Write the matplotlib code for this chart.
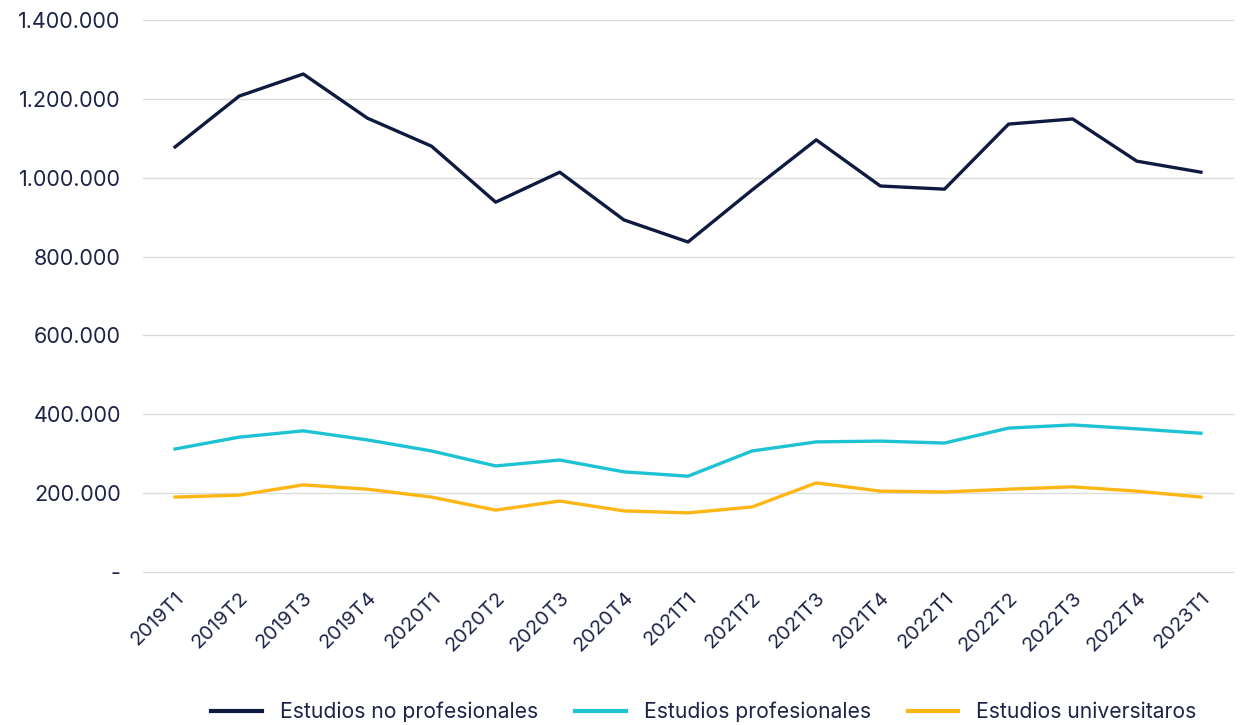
#!/usr/bin/env python3
"""Ocupados por nivel de estudios, 2019T1-2023T1."""

import matplotlib
matplotlib.use("Agg")
import matplotlib.pyplot as plt
import matplotlib.ticker as mticker
from matplotlib.lines import Line2D

plt.rcParams.update(
    {
        "font.family": ["Inter", "DejaVu Sans"],
        "font.size": 14,
    }
)

TEXT = "#1E2447"
NAVY = "#101A40"
CYAN = "#1EC3D3"
ORANGE = "#FDB614"

periods = [
    "2019T1", "2019T2", "2019T3", "2019T4",
    "2020T1", "2020T2", "2020T3", "2020T4",
    "2021T1", "2021T2", "2021T3", "2021T4",
    "2022T1", "2022T2", "2022T3", "2022T4",
    "2023T1",
]
no_profesionales = [
    1078000, 1207000, 1263000, 1151000, 1080000, 938000, 1014000, 893000,
    837000, 969000, 1096000, 979000, 971000, 1136000, 1149000, 1042000, 1014000,
]
profesionales = [
    312000, 342000, 358000, 335000, 307000, 269000, 284000, 254000,
    243000, 307000, 330000, 332000, 327000, 365000, 373000, 363000, 352000,
]
universitarios = [
    190000, 195000, 221000, 210000, 190000, 157000, 180000, 155000,
    150000, 165000, 226000, 205000, 203000, 210000, 216000, 205000, 190000,
]
series_labels = ["Estudios no profesionales", "Estudios profesionales", "Estudios universitaros"]


def fmt_thousands(v, _pos):
    if v == 0:
        return "-"
    return f"{int(v):,}".replace(",", ".")


fig = plt.figure(figsize=(12.4, 7.25), dpi=100)
ax = fig.add_axes([143 / 1240, 1 - 572 / 725, (1233 - 143) / 1240, (572 - 20) / 725])

x = range(len(periods))
for ys, color in zip((no_profesionales, profesionales, universitarios), (NAVY, CYAN, ORANGE)):
    ax.plot(x, ys, color=color, linewidth=2.4, zorder=3)

ax.set_xlim(-0.5, len(periods) - 0.5)
ax.set_ylim(0, 1400000)
ax.yaxis.set_major_locator(mticker.MultipleLocator(200000))
ax.yaxis.set_major_formatter(mticker.FuncFormatter(fmt_thousands))
ax.grid(axis="y", color="#DCDCDC", linewidth=1.0)
for gl in ax.get_ygridlines():
    gl.set_clip_on(False)
ax.set_axisbelow(True)
for s in ax.spines.values():
    s.set_visible(False)

ax.set_xticks(list(x))
ax.set_xticklabels(periods, rotation=45, ha="right", va="top", rotation_mode="anchor")
ax.tick_params(axis="x", length=0, colors=TEXT, labelsize=14.5, pad=12)
ax.tick_params(axis="y", length=0, colors=TEXT, labelsize=15.5, pad=16)

handles = [Line2D([], [], color=c, linewidth=3) for c in (NAVY, CYAN, ORANGE)]
leg = fig.legend(
    handles,
    series_labels,
    loc="center",
    bbox_to_anchor=(704 / 1240, 1 - 712 / 725),
    ncol=3,
    frameon=False,
    fontsize=15.2,
    handlelength=2.4,
    handletextpad=0.85,
    columnspacing=1.75,
)
for t in leg.get_texts():
    t.set_color(TEXT)

fig.savefig("out.png", dpi=100)
